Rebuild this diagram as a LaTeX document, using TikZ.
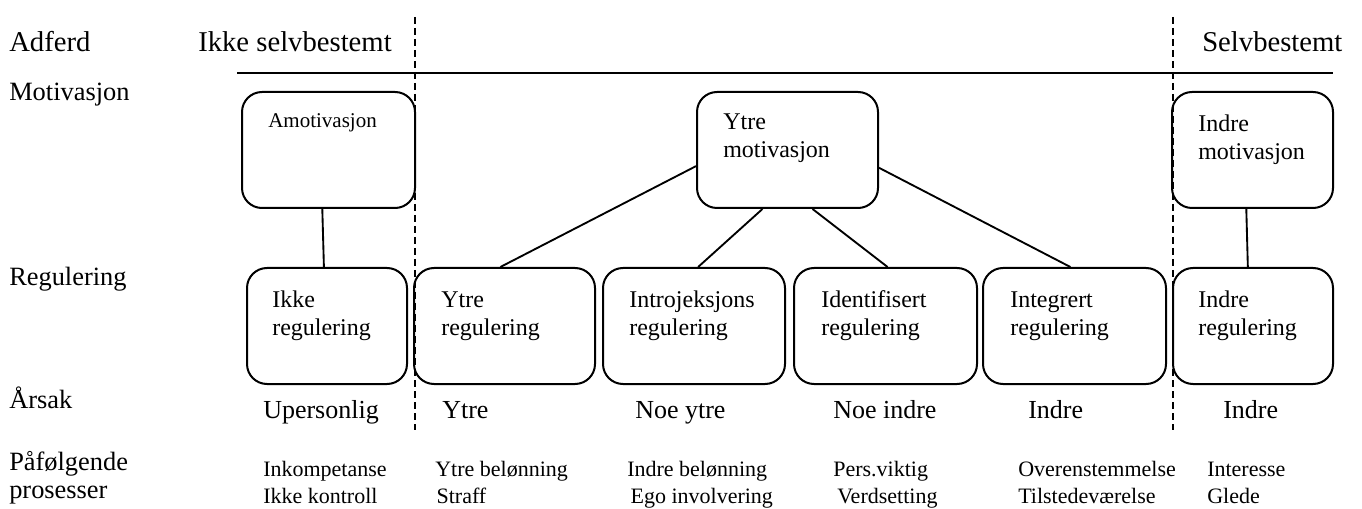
\documentclass[tikz,border=0pt]{standalone}
\usepackage{fontspec}
\setmainfont{Liberation Serif}
\begin{document}
\begin{tikzpicture}[x=0.75pt,y=-0.75pt,
  box/.style={draw, line width=1.5pt, rounded corners=15pt, inner sep=0pt, minimum height=87pt},
  conn/.style={line width=1.4pt},
  divider/.style={line width=1.5pt, dash pattern=on 5.25pt off 3pt},
  rule/.style={line width=1.4pt},
  txt/.style={anchor=base west, inner sep=0pt, align=left},
  head/.style={txt, font=\fontsize{21.5}{24}\selectfont},
  side/.style={txt, font=\fontsize{19.8}{21}\selectfont},
  intxt/.style={txt, font=\fontsize{18}{21}\selectfont},
  small/.style={txt, font=\fontsize{15.75}{19}\selectfont},
  cause/.style={txt, font=\fontsize{19.5}{22}\selectfont},
  proc/.style={txt, font=\fontsize{16.5}{20}\selectfont}]
\useasboundingbox (0,0) rectangle (1362,509);

% boxes
\node[box, minimum width=129.75pt] (am) at (328.5,150) {};
\node[box, minimum width=135.75pt] (ym) at (787.5,150) {};
\node[box, minimum width=120.75pt] (im) at (1252.5,150) {};
\node[box, minimum width=120pt] (ir) at (327,326) {};
\node[box, minimum width=135.75pt] (yr) at (504.5,326) {};
\node[box, minimum width=136.5pt] (ij) at (694,326) {};
\node[box, minimum width=137.25pt] (id) at (885.5,326) {};
\node[box, minimum width=137.25pt] (ig) at (1074.5,326) {};
\node[box, minimum width=120pt] (ire) at (1253,326) {};

% dividers and rule
\coordinate (d1t) at (415,17);
\coordinate (d1b) at (415,430);
\coordinate (d2t) at (1172.7,17);
\coordinate (d2b) at (1172.7,430);
\coordinate (h1) at (237,73);
\coordinate (h2) at (1333,73);
\draw[rule] (h1) -- (h2);
\draw[divider] (d1t) -- (d1b);
\draw[divider] (d2t) -- (d2b);

% connectors
\draw[conn] (am.264.6) -- (ir.93.9);
\draw[conn] (im.264.6) -- (ire.95.9);
\draw[conn] (ym.190.6) -- (yr.94.4);
\draw[conn] (ym.247.1) -- (ij.86.1);
\draw[conn] (ym.293.7) -- (id.88.5);
\draw[conn] (ym.349.4) -- (ig.94.4);

% headings
\node[head] (tAdferd) at (9,52) {Adferd};
\node[head] (tIkkeSelv) at (198,52) {Ikke selvbestemt};
\node[head] (tSelv) at (1202,52) {Selvbestemt};

% side labels
\node[side] (tMot) at (9,101) {Motivasjon};
\node[side] (tReg) at (9,286) {Regulering};
\node[side] (tArs) at (9,408) {Årsak};
\node[side] (tPaf) at (9,498) {Påfølgende\\prosesser};

% box texts (base = last line)
\node[small] (xam) at (268,128) {Amotivasjon};
\node[intxt] (xym) at (723,158) {Ytre\\motivasjon};
\node[intxt] (xim) at (1198,160) {Indre\\motivasjon};
\node[intxt] (xir) at (272,335) {Ikke\\regulering};
\node[intxt] (xyr) at (441,335) {Ytre\\regulering};
\node[intxt] (xij) at (629,335) {Introjeksjons\\regulering};
\node[intxt] (xid) at (821,335) {Identifisert\\regulering};
\node[intxt] (xig) at (1010,335) {Integrert\\regulering};
\node[intxt] (xire) at (1198,335) {Indre\\regulering};

% causes
\node[cause] (c1) at (263,418) {Upersonlig};
\node[cause] (c2) at (442,418) {Ytre};
\node[cause] (c3) at (635,418) {Noe ytre};
\node[cause] (c4) at (833,418) {Noe indre};
\node[cause] (c5) at (1028,418) {Indre};
\node[cause] (c6) at (1223,418) {Indre};

% processes (base = last line)
\node[proc] (p1) at (263,503) {Inkompetanse\\Ikke kontroll};
\node[proc] (p2) at (435,503) {Ytre belønning\\\hspace*{1pt}Straff};
\node[proc] (p3) at (627,503) {Indre belønning\\\hspace*{2.5pt}Ego involvering};
\node[proc] (p4) at (833,503) {Pers.viktig\\\hspace*{3pt}Verdsetting};
\node[proc] (p5) at (1018,503) {Overenstemmelse\\Tilstedeværelse};
\node[proc] (p6) at (1207,503) {Interesse\\Glede};
\end{tikzpicture}
\end{document}
